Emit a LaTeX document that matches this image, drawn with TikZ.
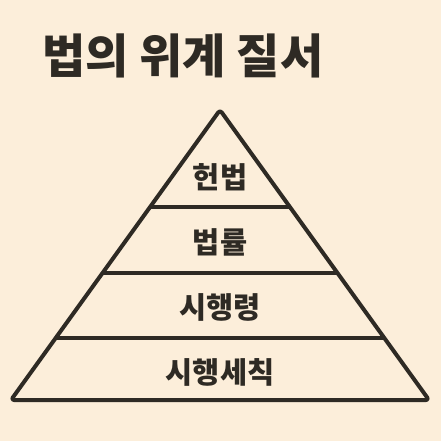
\documentclass[tikz,border=0pt]{standalone}
\usepackage{fontspec}
\newfontfamily\kor{Noto Sans CJK KR}
\usetikzlibrary{calc}
\definecolor{paper}{HTML}{FCEEDA}
\definecolor{ink}{HTML}{2E2A24}

\begin{document}
\begin{tikzpicture}[x=1pt,y=-1pt,line width=4pt,draw=ink,text=ink,
        level/.style={font=\kor\bfseries\fontsize{29.5}{32}\selectfont},
        title/.style={font=\kor\bfseries\fontsize{47}{50}\selectfont,anchor=base west}]
        \fill[paper] (0,0) rectangle (441,441);
        \useasboundingbox (0,0) rectangle (441,441);

        \node[title] (ttl) at (37,74) {법의 위계 질서};

        \coordinate (apex) at (220,110);
        \coordinate (bl) at (11,400);
        \coordinate (br) at (429,400);
        \draw[ink,line join=round,rounded corners=3pt] (apex) -- (bl) -- (br) -- cycle;

        % dividing lines
        \foreach \f/\n in {0.334/1,0.562/2,0.786/3}{
            \coordinate (l\n) at ($(apex)!\f!(bl)$);
            \coordinate (r\n) at ($(apex)!\f!(br)$);
            \draw[ink] (l\n) -- (r\n);
        }

        \node[level] (hb) at (220,177) {헌법};
        \node[level] (br1) at (220,242) {법률};
        \node[level] (sr) at (220,307) {시행령};
        \node[level] (ss) at (220,372) {시행세칙};
    \end{tikzpicture}
\end{document}
